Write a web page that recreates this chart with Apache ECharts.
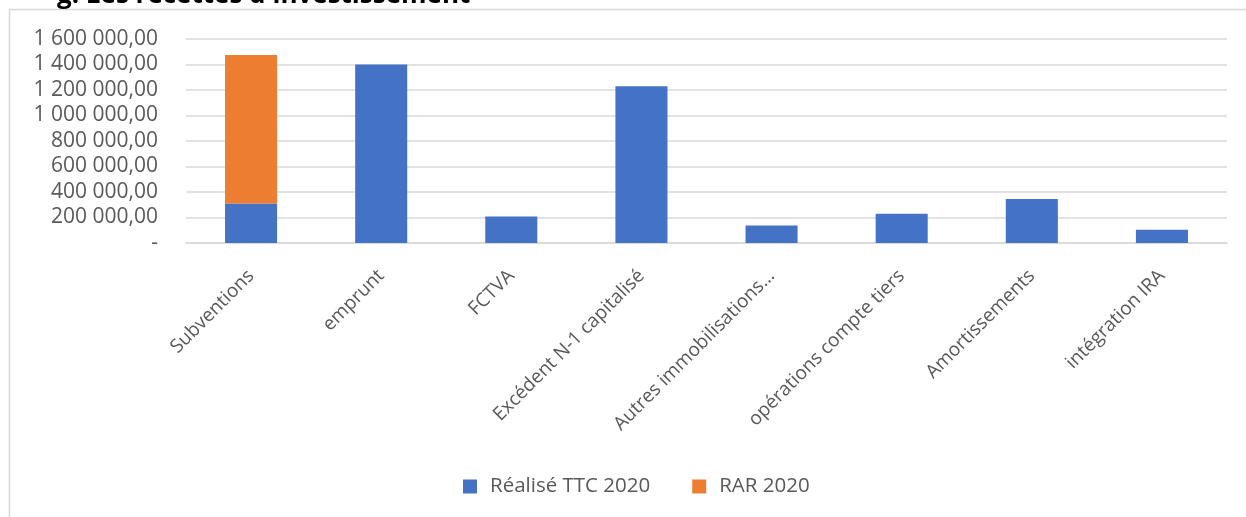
<!DOCTYPE html>
<html>
<head>
<meta charset="utf-8">
<script src="https://cdn.jsdelivr.net/npm/echarts@6/dist/echarts.min.js"></script>
<style>html,body{margin:0;padding:0;background:#fff;}#c{width:1246px;height:517px;}</style>
</head>
<body>
<div id="c"></div>
<script>
const categories = ["Subventions", "emprunt", "FCTVA", "Excédent N-1 capitalisé", "Autres immobilisations…", "opérations compte tiers", "Amortissements", "intégration IRA"];
const realise = [310000, 1400000, 208000, 1230000, 138000, 229000, 345000, 104000];
const rar = [1165000, 0, 0, 0, 0, 0, 0, 0];
const seriesNames = ["Réalisé TTC 2020", "RAR 2020"];
const titleText = "g. Les recettes d'investissement";

function fmt(v) {
  if (v === 0) return "-";
  const s = Math.round(v).toString().replace(/\B(?=(\d{3})+(?!\d))/g, " ");
  return s + ",00";
}

const chart = echarts.init(document.getElementById('c'), null, {renderer: 'canvas'});
const font = "'Open Sans', 'Noto Sans', sans-serif";
chart.setOption({
  animation: false,
  textStyle: {fontFamily: font},
  graphic: [
    {type: 'rect', shape: {x: 9.5, y: 9.5, width: 1300, height: 600}, style: {fill: 'none', stroke: '#d9d9d9', lineWidth: 1.5}, z: -1},
    {type: 'text', x: 57, y: 9, style: {text: titleText, font: "bold 26px 'Open Sans', sans-serif", fill: '#000', verticalAlign: 'bottom'}}
  ],
  legend: {
    data: seriesNames,
    bottom: 15,
    left: 458,
    itemWidth: 14,
    itemHeight: 14,
    itemGap: 42,
    icon: 'rect',
    textStyle: {fontSize: 20.5, color: '#595959', fontFamily: font, padding: [0, 0, 0, 8]}
  },
  grid: {left: 186, right: 19, top: 39, bottom: 274, containLabel: false},
  xAxis: {
    type: 'category',
    data: categories,
    axisLine: {lineStyle: {color: '#d9d9d9', width: 1.5}},
    axisTick: {show: false},
    axisLabel: {rotate: 45, fontSize: 19, color: '#595959', interval: 0, margin: 30, fontFamily: font}
  },
  yAxis: {
    type: 'value',
    min: 0,
    max: 1600000,
    interval: 200000,
    axisLine: {show: false},
    axisTick: {show: false},
    splitLine: {lineStyle: {color: '#d9d9d9', width: 1.5}},
    axisLabel: {formatter: fmt, fontSize: 21, color: '#595959', margin: 28, fontFamily: font}
  },
  series: [
    {name: seriesNames[0], type: 'bar', stack: 's', data: realise, barWidth: '40%', itemStyle: {color: '#4472c4'}},
    {name: seriesNames[1], type: 'bar', stack: 's', data: rar, barWidth: '40%', itemStyle: {color: '#ed7d31'}}
  ]
});
</script>
</body>
</html>
